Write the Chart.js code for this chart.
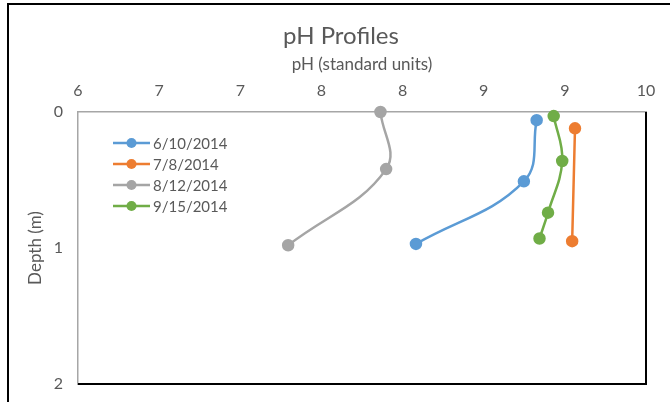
<!DOCTYPE html>
<html>
<head>
<meta charset="utf-8">
<script src="https://cdn.jsdelivr.net/npm/chart.js@4"></script>
<style>
  html, body { margin: 0; padding: 0; background: #fff; }
</style>
</head>
<body>
<canvas id="chart" width="670" height="402"></canvas>
<script>
// series values: pH (x) against depth in metres (y)
var seriesLabels = ['6/10/2014', '7/8/2014', '8/12/2014', '9/15/2014'];
var seriesColors = ['#5B9BD5', '#ED7D31', '#A5A5A5', '#70AD47'];

var phJun = [9.23, 9.14, 8.38];
var depthJun = [0.06, 0.51, 0.97];

var phJul = [9.50, 9.48];
var depthJul = [0.12, 0.95];

var phAug = [8.13, 8.17, 7.48];
var depthAug = [0.00, 0.42, 0.98];

var phSep = [9.35, 9.41, 9.31, 9.25];
var depthSep = [0.03, 0.36, 0.74, 0.93];

// Excel split 6..10 into 7 steps and rounds the labels
var xMin = 6, xMax = 10, xSteps = 7;
var yTicks = [0, 1, 2];

var fontFamily = 'Lato, "Open Sans", sans-serif';
var textColor = '#595959';

function pairs(xs, ys) {
	var out = [];
	for (var i = 0; i < xs.length; i++) {
		out.push({x: xs[i], y: ys[i]});
	}
	return out;
}

var allSeries = [pairs(phJun, depthJun), pairs(phJul, depthJul), pairs(phAug, depthAug), pairs(phSep, depthSep)];

var datasets = allSeries.map(function(d, i) {
	return {
		label: seriesLabels[i],
		data: d,
		showLine: true,
		borderColor: seriesColors[i],
		backgroundColor: seriesColors[i],
		borderWidth: 2.5,
		pointRadius: 5,
		pointHoverRadius: 5,
		tension: 0.4,
		clip: false
	};
});

// frame lines: outer chart border, plus the black right/bottom plot edges
var framePlugin = {
	id: 'frame',
	afterLayout: function(chart) {
		// centre the title on the whole chart box, like Excel does
		chart.titleBlock.left = 8;
		chart.titleBlock.right = 674;
	},
	afterDraw: function(chart) {
		var c = chart.ctx, a = chart.chartArea;
		c.save();
		c.strokeStyle = '#000';
		c.lineWidth = 2;
		c.beginPath();
		c.moveTo(8, 402);
		c.lineTo(8, 4);
		c.lineTo(670, 4);
		c.stroke();
		c.beginPath();
		c.moveTo(a.left, a.bottom);
		c.lineTo(a.right, a.bottom);
		c.lineTo(a.right, a.top);
		c.stroke();
		c.restore();
	}
};

// Excel-style legend: line with marker, placed inside the plot
var legendPlugin = {
	id: 'insideLegend',
	afterDatasetsDraw: function(chart) {
		var c = chart.ctx;
		var x0 = 113, x1 = 150, y0 = 143, dy = 21;
		c.save();
		c.font = '15px ' + fontFamily;
		c.textBaseline = 'middle';
		chart.data.datasets.forEach(function(ds, i) {
			var y = y0 + i * dy;
			c.strokeStyle = ds.borderColor;
			c.lineWidth = 2.5;
			c.beginPath();
			c.moveTo(x0, y);
			c.lineTo(x1, y);
			c.stroke();
			c.fillStyle = ds.borderColor;
			c.beginPath();
			c.arc((x0 + x1) / 2, y, 5, 0, Math.PI * 2);
			c.fill();
			c.fillStyle = textColor;
			c.fillText(ds.label, x1 + 3, y + 1);
		});
		c.restore();
	}
};

var ctx = document.getElementById('chart').getContext('2d');
var chart = new Chart(ctx, {
	type: 'scatter',
	data: {datasets: datasets},
	plugins: [framePlugin, legendPlugin],
	options: {
		responsive: false,
		animation: false,
		layout: {padding: {left: 8, top: 0, right: 24, bottom: 18}},
		plugins: {
			legend: {display: false},
			tooltip: {enabled: false},
			title: {
				display: true,
				text: 'pH Profiles',
				color: textColor,
				font: {family: fontFamily, size: 24, weight: 'normal'},
				padding: {top: 22, bottom: 0}
			}
		},
		scales: {
			x: {
				type: 'linear',
				position: 'top',
				min: xMin,
				max: xMax,
				afterBuildTicks: function(axis) {
					var t = [];
					for (var i = 0; i <= xSteps; i++) {
						t.push({value: xMin + (xMax - xMin) * i / xSteps});
					}
					axis.ticks = t;
				},
				afterFit: function(axis) {
					axis.height = 61.2;
				},
				ticks: {
					color: textColor,
					font: {family: fontFamily, size: 16},
					padding: 12,
					callback: function(v) { return Math.round(v); }
				},
				grid: {display: false, drawTicks: false},
				border: {display: true, color: '#A6A6A6', width: 1.5},
				title: {
					display: true,
					text: 'pH (standard units)',
					color: textColor,
					font: {family: fontFamily, size: 17},
					padding: {top: 4, bottom: 0}
				}
			},
			y: {
				type: 'linear',
				reverse: true,
				min: yTicks[0],
				max: yTicks[yTicks.length - 1],
				afterBuildTicks: function(axis) {
					axis.ticks = yTicks.map(function(v) { return {value: v}; });
				},
				afterFit: function(axis) {
					axis.width = 70;
					// tick padding would otherwise be added below the last label
					axis.paddingTop = 0;
					axis.paddingBottom = 0;
				},
				ticks: {
					color: textColor,
					font: {family: fontFamily, size: 16},
					padding: 15
				},
				grid: {display: false, drawTicks: false},
				border: {display: true, color: '#A6A6A6', width: 1.5},
				title: {
					display: true,
					text: 'Depth (m)',
					color: textColor,
					font: {family: fontFamily, size: 17},
					padding: {top: 17, bottom: 0}
				}
			}
		}
	}
});
</script>
</body>
</html>
